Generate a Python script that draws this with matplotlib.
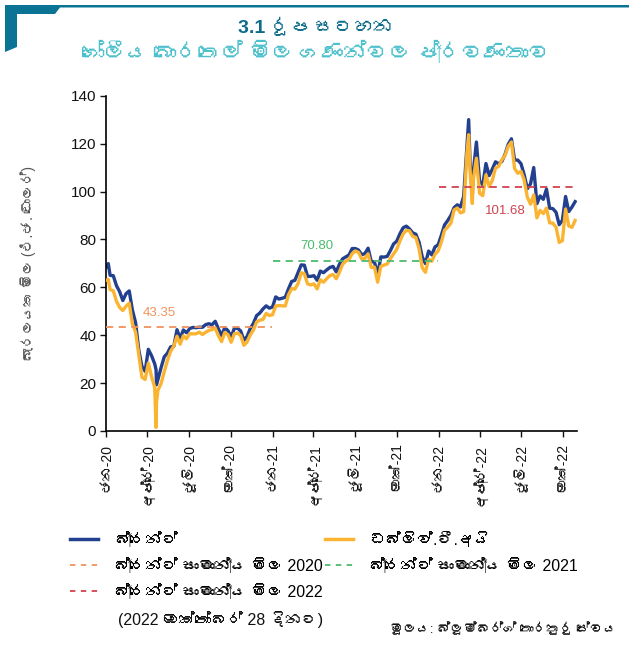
import numpy as np
import pandas as pd
import matplotlib
matplotlib.use("Agg")
import matplotlib.pyplot as plt
from matplotlib import font_manager as fm
from matplotlib.ft2font import FT2Font
from matplotlib.patches import Polygon
from matplotlib.lines import Line2D


# ----------------------------
# FONTS (use a Sinhala font if one is installed)
# ----------------------------
def find_sinhala_font():
    for f in fm.fontManager.ttflist:
        try:
            if 0x0DB8 in FT2Font(f.fname).get_charmap():
                return f.name
        except Exception:
            continue
    return None


families = ["Liberation Sans", "DejaVu Sans"]
sinhala = find_sinhala_font()
if sinhala:
    families.insert(1, sinhala)
plt.rcParams["font.family"] = families

# ----------------------------
# DATA (USD per barrel, weekly)
# ----------------------------
week_dates = pd.date_range("2020-01-03", "2022-10-28", freq="W-FRI")

brent_2020 = [68.60, 64.98, 64.85, 60.69, 58.16,
              54.47, 57.32, 58.50, 50.52,
              45.27, 33.85, 26.98, 24.93,
              34.11, 31.48, 28.08, 21.44,
              26.44, 30.97, 32.50, 35.13, 35.33,
              42.30, 38.73, 42.19, 41.02,
              42.80, 43.24, 43.14, 43.34, 43.30,
              44.40, 44.80, 44.35, 45.81,
              42.66, 39.83, 43.15, 41.92,
              39.27, 42.85, 42.93, 41.77, 37.94,
              39.45, 42.78, 44.96, 48.18,
              49.25, 50.97, 52.26, 51.29]
brent_2021 = [51.80, 55.99, 55.10, 55.41, 55.88,
              59.34, 62.43, 62.91, 66.13,
              69.36, 69.22, 64.53, 64.57,
              64.86, 62.95, 66.77, 66.11, 67.25,
              68.28, 68.71, 66.44, 69.63,
              71.89, 72.69, 73.51, 76.18,
              76.17, 75.55, 73.59, 74.10, 76.33,
              70.70, 70.59, 65.18, 72.70,
              72.61, 72.92, 75.34, 78.09,
              79.28, 82.39, 84.86, 85.53, 84.38,
              82.74, 82.17, 78.89, 72.72,
              69.88, 75.15, 73.52, 76.85, 77.78]
brent_2022 = [81.75, 86.06, 87.89, 90.03,
              93.27, 94.44, 93.54, 97.93,
              118.11, 112.67, 107.93, 120.65,
              104.39, 102.78, 111.70, 106.65, 109.34,
              112.39, 111.55, 112.55, 115.56,
              119.72, 122.01, 113.12, 113.12,
              111.63, 107.02, 101.16, 103.20, 110.01,
              94.92, 98.15, 96.72, 100.99,
              93.02, 92.84, 91.35, 86.15, 87.96,
              97.92, 91.63, 93.50, 95.77]

wti_2020 = [63.05, 59.04, 58.54, 54.19, 51.56,
            50.32, 52.05, 53.38, 44.76,
            41.28, 31.73, 22.43, 21.51,
            28.34, 22.76, 18.27, 16.94,
            19.78, 24.74, 29.43, 33.25, 35.49,
            39.55, 36.26, 39.75, 38.49,
            40.65, 40.55, 40.59, 41.29, 40.27,
            41.22, 42.01, 42.34, 42.97,
            39.77, 37.33, 41.11, 40.25,
            37.05, 40.60, 40.88, 39.85, 35.79,
            37.14, 40.13, 42.15, 45.53,
            46.26, 46.57, 49.10, 48.23]
wti_2021 = [48.52, 52.24, 52.36, 52.27, 52.20,
            56.85, 59.47, 59.24, 61.50,
            66.09, 65.61, 61.42, 60.97,
            61.45, 59.32, 63.13, 62.14, 63.58,
            64.90, 65.37, 63.58, 66.32,
            69.62, 70.91, 71.64, 74.05,
            75.16, 74.56, 71.81, 72.07, 73.95,
            68.28, 68.44, 62.14, 68.74,
            69.29, 69.72, 71.97, 73.98,
            75.88, 79.35, 82.28, 83.76, 83.57,
            81.27, 80.79, 76.10, 68.15,
            66.26, 71.67, 70.86, 73.79, 75.21]
wti_2022 = [78.90, 83.82, 85.14, 86.82,
            92.31, 93.10, 91.07, 91.59,
            115.68, 109.33, 104.70, 113.90,
            99.27, 98.26, 106.95, 102.07, 104.69,
            109.77, 110.49, 113.23, 115.07,
            118.87, 120.67, 109.56, 107.62,
            108.43, 104.79, 97.59, 94.70, 98.62,
            89.01, 92.09, 90.77, 93.06,
            86.87, 86.79, 85.11, 78.74, 79.49,
            92.64, 85.61, 85.05, 87.90]

# daily spikes that the weekly points miss
spike_dates = ["2020-01-06", "2020-04-20", "2020-04-21", "2022-03-08", "2022-03-16"]
spike_brent = [69.9, 25.6, 19.3, 130.0, 98.0]
spike_wti = [63.3, 1.5, 12.0, 123.7, 95.0]

avg_years = [2020, 2021, 2022]
avg_values = [43.35, 70.80, 101.68]
avg_colors = ["#f2925c", "#4cbb6c", "#d1424f"]

month_names = ["ජන", "අප්‍රේ", "ජූලි", "ඔක්"]

legend_labels = ["බ්‍රෙන්ට්", "ඩබ්ලිව්.ටී.අයි",
                 "බ්‍රෙන්ට් සාමාන්‍ය මිල 2020", "බ්‍රෙන්ට් සාමාන්‍ය මිල 2021",
                 "බ්‍රෙන්ට් සාමාන්‍ය මිල 2022"]
note_2022 = "(2022 ඔක්තෝබර් 28 දිනට)"
title_1 = "3.1 රූප සටහන"
title_2 = "ගෝලීය බොරතෙල් මිල ගණන්වල ප්‍රවණතාව"
y_label = "බැරලයක මිල (එ.ජ. ඩොලර්)"
source = "මූලය: බ්ලූම්බර්ග් තොරතුරු සේවය"

df = pd.DataFrame({"date": week_dates,
                   "brent": brent_2020 + brent_2021 + brent_2022,
                   "wti": wti_2020 + wti_2021 + wti_2022})
extra = pd.DataFrame({"date": pd.to_datetime(spike_dates),
                      "brent": spike_brent, "wti": spike_wti})
df = pd.concat([df, extra]).sort_values("date").reset_index(drop=True)

BLUE = "#23408e"
GOLD = "#fbb431"

# ----------------------------
# FIGURE
# ----------------------------
W, H = 629, 649
fig = plt.figure(figsize=(W / 100, H / 100), dpi=100)


def fx(px):
    return px / W


def fy(py):
    return 1 - py / H


# header decoration
deco = [(5, 5), (629, 5), (629, 7.5), (60, 7.5), (55, 14), (17, 14), (17, 47), (5, 52)]
fig.patches.append(Polygon([(fx(x), fy(y)) for x, y in deco], closed=True,
                           transform=fig.transFigure, facecolor="#0b7495",
                           edgecolor="none"))

fig.text(fx(316), fy(27), title_1, ha="center", va="center", fontsize=14,
         fontweight="bold", color="#0d6c8a")
fig.text(fx(316), fy(53), title_2, ha="center", va="center", fontsize=16,
         color="#4cc0cc")

ax = fig.add_axes([fx(106), fy(431), fx(576.5) - fx(106), fy(95.7) - fy(431)])

ax.plot(df["date"], df["brent"], color=BLUE, lw=2.4, zorder=2)
ax.plot(df["date"], df["wti"], color=GOLD, lw=2.4, zorder=3)

last_day = df["date"].iloc[-1]
for yr, val, col in zip(avg_years, avg_values, avg_colors):
    start = pd.Timestamp(f"{yr}-01-01")
    end = min(pd.Timestamp(f"{yr}-12-31"), last_day)
    ax.plot([start, end], [val, val], color=col, lw=1.3, dashes=(4, 3), zorder=4)

# average value labels
ax.text(pd.Timestamp("2020-04-28"), avg_values[0] + 6, f"{avg_values[0]:.2f}",
        color=avg_colors[0], fontsize=9.5, ha="center", va="center")
ax.text(pd.Timestamp("2021-04-08"), avg_values[1] + 6.6, f"{avg_values[1]:.2f}",
        color=avg_colors[1], fontsize=9.5, ha="center", va="center")
ax.text(pd.Timestamp("2022-05-28"), avg_values[2] - 10, f"{avg_values[2]:.2f}",
        color=avg_colors[2], fontsize=9.5, ha="center", va="center")

# axes
ax.set_ylim(0, 140)
ax.set_yticks(np.arange(0, 141, 20))
ax.set_xlim(pd.Timestamp("2020-01-01"), pd.Timestamp("2022-10-31"))
ticks = pd.date_range("2020-01-01", "2022-10-01", freq="QS")
ax.set_xticks(ticks)
ax.set_xticklabels([f"{month_names[(t.month - 1) // 3]}-{t.year % 100}" for t in ticks],
                   rotation=90, ha="center", va="top")
for s in ["top", "right"]:
    ax.spines[s].set_visible(False)
for s in ["left", "bottom"]:
    ax.spines[s].set_linewidth(1.2)
ax.tick_params(axis="y", length=4, width=1, labelsize=11, pad=3, colors="#111")
ax.tick_params(axis="x", length=4, width=1, labelsize=10, pad=5, colors="#111")
ax.set_ylabel(y_label, fontsize=10, color="#555")
ax.yaxis.set_label_coords((36 - 106) / 470.5, 0.5)

# legend (two columns placed separately)
h_brent = Line2D([], [], color=BLUE, lw=2.5)
h_wti = Line2D([], [], color=GOLD, lw=2.5)
h_avg = [Line2D([], [], color=c, lw=1.3, dashes=(3, 3)) for c in avg_colors]
leg_kw = dict(frameon=False, fontsize=11.5, handlelength=1.75, handletextpad=1.0,
              labelspacing=0.62, borderpad=0, borderaxespad=0, loc="upper left")
leg1 = fig.legend([h_brent, h_avg[0], h_avg[2]],
                  [legend_labels[0], legend_labels[2], legend_labels[4]],
                  bbox_to_anchor=(fx(70), fy(532)), **leg_kw)
leg2 = fig.legend([h_wti, h_avg[1]], [legend_labels[1], legend_labels[3]],
                  bbox_to_anchor=(fx(325), fy(532)), **leg_kw)
fig.text(fx(118), fy(620), note_2022, fontsize=11.5, ha="left", va="center", color="#111")

fig.text(fx(617), fy(629), source, fontsize=9.5, ha="right", va="center", color="#111")

fig.savefig("out.png", dpi=100)
